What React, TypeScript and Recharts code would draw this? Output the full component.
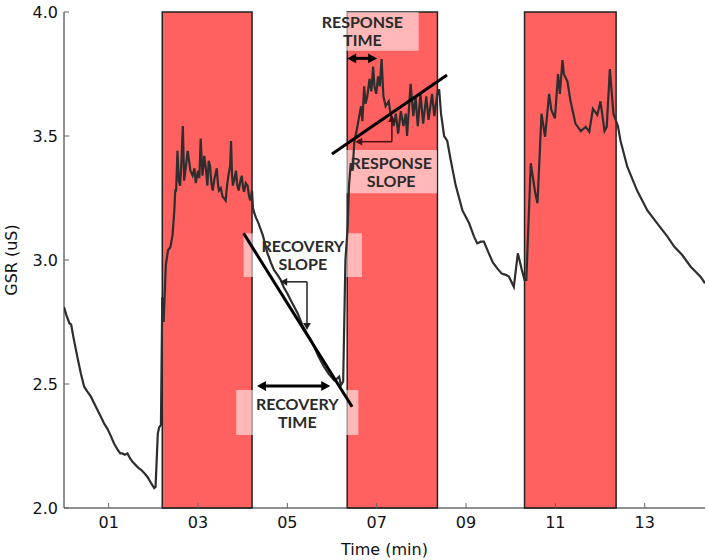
import React from "react"
import { LineChart, Line, XAxis, YAxis, ReferenceArea, ReferenceLine } from "recharts"

// time in minutes, GSR in microsiemens
const timeMin = [
  0.0, 0.05, 0.12, 0.16, 0.22, 0.31, 0.38, 0.45, 0.52, 0.6, 0.68, 0.75, 0.82, 0.9, 0.97, 1.05, 1.12, 1.2, 1.26, 1.31,
  1.36, 1.42, 1.48, 1.54, 1.62, 1.68, 1.72, 1.8, 1.87, 1.95, 2.02, 2.05, 2.1, 2.13, 2.17, 2.2, 2.23, 2.28, 2.33, 2.38,
  2.43, 2.47, 2.49, 2.51, 2.54, 2.57, 2.6, 2.63, 2.66, 2.69, 2.73, 2.77, 2.8, 2.83, 2.88, 2.92, 2.95, 3.0, 3.03, 3.06,
  3.1, 3.14, 3.18, 3.21, 3.24, 3.27, 3.3, 3.33, 3.37, 3.42, 3.45, 3.47, 3.51, 3.55, 3.58, 3.62, 3.65, 3.68, 3.72, 3.74,
  3.76, 3.78, 3.82, 3.85, 3.88, 3.91, 3.95, 3.98, 4.01, 4.03, 4.07, 4.11, 4.14, 4.17, 4.21, 4.23, 4.26, 4.3, 4.35, 4.41,
  4.45, 4.48, 4.55, 4.63, 4.7, 4.78, 4.85, 4.92, 5.0, 5.1, 5.23, 5.33, 5.45, 5.52, 5.6, 5.7, 5.82, 5.93, 6.05, 6.1,
  6.16, 6.2, 6.25, 6.3, 6.35, 6.38, 6.42, 6.46, 6.5, 6.55, 6.61, 6.65, 6.68, 6.72, 6.75, 6.79, 6.84, 6.88, 6.92, 6.95,
  6.99, 7.03, 7.07, 7.11, 7.15, 7.2, 7.27, 7.31, 7.38, 7.43, 7.48, 7.54, 7.6, 7.65, 7.68, 7.76, 7.82, 7.87, 7.92, 7.98,
  8.04, 8.11, 8.16, 8.24, 8.29, 8.37, 8.4, 8.44, 8.51, 8.58, 8.66, 8.77, 8.92, 9.07, 9.18, 9.25, 9.33, 9.4, 9.51, 9.6,
  9.7, 9.8, 9.89, 9.96, 10.07, 10.16, 10.25, 10.31, 10.35, 10.45, 10.55, 10.6, 10.69, 10.77, 10.86, 10.91, 10.99, 11.06, 11.1, 11.16,
  11.19, 11.27, 11.34, 11.45, 11.57, 11.68, 11.76, 11.84, 11.94, 12.01, 12.1, 12.15, 12.22, 12.3, 12.35, 12.4, 12.46, 12.61, 12.83, 13.06,
  13.28, 13.51, 13.66, 13.84, 14.03, 14.25, 14.35,
]

const gsr = [
  2.81, 2.78, 2.745, 2.74, 2.68, 2.6, 2.54, 2.49, 2.47, 2.45, 2.42, 2.395, 2.37, 2.34, 2.32, 2.29, 2.26, 2.235, 2.22, 2.22,
  2.215, 2.22, 2.2, 2.185, 2.17, 2.16, 2.155, 2.14, 2.125, 2.1, 2.08, 2.085, 2.3, 2.325, 2.335, 2.85, 2.75, 2.98, 3.04, 3.05,
  3.1, 3.2, 3.28, 3.28, 3.44, 3.32, 3.3, 3.4, 3.54, 3.32, 3.38, 3.44, 3.4, 3.36, 3.34, 3.37, 3.31, 3.36, 3.33, 3.49,
  3.34, 3.42, 3.36, 3.3, 3.4, 3.38, 3.31, 3.28, 3.33, 3.37, 3.3, 3.28, 3.29, 3.255, 3.25, 3.24, 3.3, 3.34, 3.38, 3.48,
  3.35, 3.3, 3.33, 3.36, 3.3, 3.28, 3.32, 3.34, 3.29, 3.275, 3.31, 3.3, 3.26, 3.24, 3.28, 3.21, 3.19, 3.17, 3.15, 3.12,
  3.1, 3.08, 3.03, 2.99, 2.96, 2.94, 2.92, 2.89, 2.865, 2.83, 2.785, 2.74, 2.7, 2.68, 2.65, 2.61, 2.57, 2.54, 2.515, 2.52,
  2.53, 2.495, 2.51, 3.0, 3.13, 3.3, 3.39, 3.36, 3.48, 3.52, 3.58, 3.62, 3.56, 3.7, 3.63, 3.66, 3.73, 3.68, 3.78, 3.7,
  3.67, 3.74, 3.7, 3.81, 3.66, 3.62, 3.64, 3.59, 3.54, 3.59, 3.51, 3.6, 3.54, 3.59, 3.5, 3.71, 3.58, 3.66, 3.54, 3.67,
  3.55, 3.66, 3.565, 3.67, 3.58, 3.685, 3.685, 3.59, 3.5, 3.48, 3.4, 3.3, 3.2, 3.148, 3.094, 3.067, 3.074, 3.074, 3.027, 2.99,
  2.966, 2.945, 2.94, 2.933, 2.892, 3.027, 2.96, 2.92, 2.92, 3.39, 3.27, 3.229, 3.59, 3.497, 3.67, 3.605, 3.571, 3.75, 3.67, 3.806,
  3.75, 3.72, 3.64, 3.55, 3.52, 3.537, 3.517, 3.61, 3.585, 3.64, 3.52, 3.537, 3.77, 3.59, 3.565, 3.54, 3.48, 3.376, 3.28, 3.2,
  3.148, 3.094, 3.054, 3.02, 2.973, 2.933, 2.906,
]

// stimulus periods (start, end) in minutes
const stimulusBands = [
  [2.2, 4.21],
  [6.34, 8.36],
  [10.31, 12.36],
]

const xTicks = [1, 3, 5, 7, 9, 11, 13]
const yTicks = [2.0, 2.5, 3.0, 3.5, 4.0]

// annotation boxes: [x1, x2, y1, y2] in data units
const noteBoxes = [
  { lines: ["RESPONSE", "TIME"], area: [5.42, 7.94, 3.844, 4.0] },
  { lines: ["RESPONSE", "SLOPE"], area: [6.3, 8.35, 3.269, 3.444] },
  { lines: ["RECOVERY", "SLOPE"], area: [4.02, 6.67, 2.931, 3.108] },
  { lines: ["RECOVERY", "TIME"], area: [3.855, 6.59, 2.294, 2.476] },
]

// annotation segments: [x1, y1, x2, y2] in data units
const slopeLines = [
  [4.02, 3.108, 6.45, 2.408],
  [6.0, 3.427, 8.575, 3.746],
]
const timeArrows = [
  [4.32, 2.492, 5.96, 2.492],
  [6.34, 3.813, 7.01, 3.813],
]
const slopeGuides = [
  [5.44, 2.912, 4.84, 2.912],
  [5.44, 2.912, 5.44, 2.718],
  [7.34, 3.477, 6.52, 3.477],
  [7.34, 3.477, 7.34, 3.585],
]

const data = timeMin.map((t, i) => ({ t, gsr: gsr[i] }))

function Arrow(props: any) {
  const { x1, y1, x2, y2, heads, color, lw, size } = props
  const dx = x2 - x1
  const dy = y2 - y1
  const len = Math.hypot(dx, dy) || 1
  const ux = dx / len
  const uy = dy / len
  const nx = -uy
  const ny = ux
  const w = size * 0.55
  const head = (px: number, py: number, dirx: number, diry: number) =>
    `${px},${py} ${px - dirx * size + nx * w},${py - diry * size + ny * w} ${px - dirx * size - nx * w},${py - diry * size - ny * w}`
  const startTrim = heads === "both" ? size * 0.8 : 0
  const endTrim = heads === "both" || heads === "end" ? size * 0.8 : 0
  return (
    <g>
      <line
        x1={x1 + ux * startTrim}
        y1={y1 + uy * startTrim}
        x2={x2 - ux * endTrim}
        y2={y2 - uy * endTrim}
        stroke={color}
        strokeWidth={lw}
      />
      {(heads === "end" || heads === "both") && <polygon points={head(x2, y2, ux, uy)} fill={color} />}
      {heads === "both" && <polygon points={head(x1, y1, -ux, -uy)} fill={color} />}
    </g>
  )
}

function BoxText(props: any) {
  const { viewBox, lines } = props
  if (!viewBox) return null
  const cx = viewBox.x + viewBox.width / 2
  const cy = viewBox.y + viewBox.height / 2
  return (
    <text
      x={cx}
      y={cy}
      textAnchor="middle"
      fill="#2a2a2a"
      fontFamily="Lato, 'Open Sans', sans-serif"
      fontWeight={700}
      fontSize={16}
    >
      <tspan x={cx} dy={-3}>{lines[0]}</tspan>
      <tspan x={cx} dy={18}>{lines[1]}</tspan>
    </text>
  )
}

const axisFont = { fontFamily: "'DejaVu Sans', sans-serif", fontSize: 16, fill: "#111" }

export default function App() {
  return (
    <div style={{ position: "absolute", left: 0, top: 0, width: 709, height: 560, background: "#fff" }}>
      <LineChart width={709} height={560} data={data} margin={{ top: 12, right: 4, bottom: 0, left: 0 }}>
        <XAxis
          dataKey="t"
          type="number"
          domain={[0, 14.35]}
          allowDataOverflow
          ticks={xTicks}
          tickFormatter={(v: number) => String(v).padStart(2, "0")}
          tickSize={-5}
          tickMargin={14}
          height={52}
          tick={axisFont}
          stroke="#222"
          tickLine={{ stroke: "#666" }}
          label={{
            content: (p: any) => (
              <text
                x={p.viewBox.x + p.viewBox.width / 2}
                y={p.viewBox.y + 41}
                textAnchor="middle"
                dominantBaseline="central"
                {...axisFont}
              >
                Time (min)
              </text>
            ),
          }}
        />
        <XAxis
          xAxisId="top"
          orientation="top"
          type="number"
          domain={[0, 14.35]}
          allowDataOverflow
          ticks={xTicks}
          tickFormatter={() => ""}
          tickSize={-5}
          height={0}
          stroke="#222"
          tickLine={{ stroke: "#666" }}
        />
        <YAxis
          type="number"
          domain={[2, 4]}
          ticks={yTicks}
          tickFormatter={(v: number) => v.toFixed(1)}
          tickSize={-5}
          tickMargin={11}
          width={64}
          tick={axisFont}
          stroke="#222"
          tickLine={{ stroke: "#666" }}
          label={{
            content: (p: any) => {
              const x = 11
              const y = p.viewBox.y + p.viewBox.height / 2
              return (
                <text
                  x={x}
                  y={y}
                  transform={`rotate(-90 ${x} ${y})`}
                  textAnchor="middle"
                  dominantBaseline="central"
                  {...axisFont}
                >
                  GSR (uS)
                </text>
              )
            },
          }}
        />
        <YAxis
          yAxisId="right"
          orientation="right"
          type="number"
          domain={[2, 4]}
          ticks={yTicks}
          tickFormatter={() => ""}
          tickSize={-5}
          width={0}
          stroke="#222"
          tickLine={{ stroke: "#666" }}
        />
        {stimulusBands.map(([a, b], i) => (
          <ReferenceArea
            key={"band" + i}
            x1={a}
            x2={b}
            y1={2}
            y2={4}
            fill="#ff6161"
            fillOpacity={1}
            stroke="#222"
            strokeWidth={1.5}
          />
        ))}
        <Line
          dataKey="gsr"
          type="linear"
          stroke="#2e2e2e"
          strokeWidth={2.2}
          dot={false}
          isAnimationActive={false}
        />
        {noteBoxes.map((b, i) => (
          <ReferenceArea
            key={"box" + i}
            x1={b.area[0]}
            x2={b.area[1]}
            y1={b.area[2]}
            y2={b.area[3]}
            fill="#ffffff"
            fillOpacity={0.55}
            stroke="none"
            label={(p: any) => <BoxText {...p} lines={b.lines} />}
          />
        ))}
        {slopeLines.map((s, i) => (
          <ReferenceLine
            key={"slope" + i}
            segment={[{ x: s[0], y: s[1] }, { x: s[2], y: s[3] }]}
            shape={(p: any) => <Arrow {...p} heads="none" color="#000" lw={3} size={0} />}
          />
        ))}
        {timeArrows.map((s, i) => (
          <ReferenceLine
            key={"time" + i}
            segment={[{ x: s[0], y: s[1] }, { x: s[2], y: s[3] }]}
            shape={(p: any) => <Arrow {...p} heads="both" color="#000" lw={3} size={9} />}
          />
        ))}
        {slopeGuides.map((s, i) => (
          <ReferenceLine
            key={"guide" + i}
            segment={[{ x: s[0], y: s[1] }, { x: s[2], y: s[3] }]}
            shape={(p: any) => <Arrow {...p} heads="end" color={i < 2 ? "#222" : "#4a1010"} lw={1.5} size={7} />}
          />
        ))}
      </LineChart>
    </div>
  )
}
